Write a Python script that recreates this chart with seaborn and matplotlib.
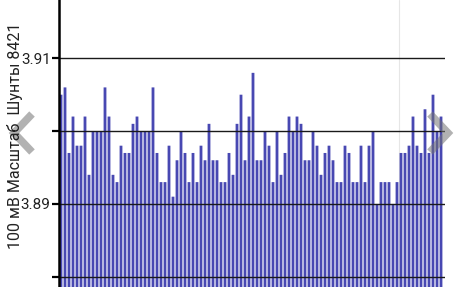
import matplotlib
matplotlib.use("Agg")
import matplotlib.pyplot as plt
import seaborn as sns
import pandas as pd
from matplotlib.lines import Line2D

values = [
    3.905, 3.906, 3.897, 3.902, 3.898, 3.898, 3.902, 3.894, 3.900, 3.900,
    3.900, 3.906, 3.902, 3.894, 3.893, 3.898, 3.897, 3.897, 3.901, 3.902,
    3.900, 3.900, 3.900, 3.906, 3.897, 3.893, 3.893, 3.898, 3.891, 3.896,
    3.900, 3.897, 3.893, 3.897, 3.893, 3.898, 3.896, 3.901, 3.896, 3.896,
    3.893, 3.893, 3.897, 3.894, 3.901, 3.905, 3.896, 3.902, 3.908, 3.896,
    3.896, 3.900, 3.898, 3.893, 3.900, 3.894, 3.897, 3.902, 3.900, 3.902,
    3.901, 3.896, 3.896, 3.900, 3.898, 3.894, 3.897, 3.898, 3.896, 3.893,
    3.893, 3.898, 3.897, 3.893, 3.893, 3.898, 3.893, 3.898, 3.900, 3.890,
    3.893, 3.893, 3.893, 3.890, 3.893, 3.897, 3.897, 3.898, 3.902, 3.898,
    3.897, 3.903, 3.897, 3.905, 3.900, 3.902,
]
samples = list(range(len(values)))
ytick_values = [3.88, 3.89, 3.90, 3.91]
ytick_labels = ["", "3.89", "", "3.91"]
ylabel_text = "100 мВ Масштаб  Шунты 8421"

df = pd.DataFrame({"sample": samples, "value": values})

sns.set_style("white")
plt.rcParams["font.family"] = ["Roboto", "DejaVu Sans"]

W, H = 456, 287
fig = plt.figure(figsize=(W / 100, H / 100), dpi=100)
ax = fig.add_axes([59 / W, 0, (445 - 59) / W, 1])

sns.barplot(data=df, x="sample", y="value", color="#4848b2", saturation=1,
            width=0.7, ax=ax, zorder=2, linewidth=0)
for p in ax.patches:
    p.set_snap(False)
    p.set_antialiased(True)

ax.axvline(84.6, color="#e6e6e6", lw=0.8, zorder=0)

ax.set_ylim(3.8786, 3.918)
ax.set_xlim(-0.5, 96)
ax.set_yticks(ytick_values)
ax.set_yticklabels(ytick_labels)
ax.yaxis.grid(True, color="#1a1a1a", lw=1.0, zorder=3)
ax.set_axisbelow(False)
for line in ax.get_ygridlines():
    line.set_zorder(3)
ax.set_xticks([])
ax.set_xlabel("")
ax.set_ylabel("")
ax.tick_params(axis="y", left=True, length=5, width=1.6, color="black",
               labelsize=11, pad=1, labelcolor="#222222")
for s in ["top", "right", "bottom"]:
    ax.spines[s].set_visible(False)
ax.spines["left"].set_color("black")
ax.spines["left"].set_linewidth(1.8)
ax.spines["left"].set_zorder(4)

fig.text(15 / W, 1 - 136 / H, ylabel_text, rotation=90, ha="center", va="center",
         fontsize=11.5, color="#222222")

# navigation chevrons
gray = (0.45, 0.45, 0.45, 0.55)
fig.add_artist(Line2D([32 / W, 14 / W, 32 / W],
                      [1 - 114 / H, 1 - 133 / H, 1 - 152 / H],
                      transform=fig.transFigure, color=gray, lw=5.5,
                      solid_joinstyle="miter", solid_capstyle="butt"))
fig.add_artist(Line2D([430 / W, 448 / W, 430 / W],
                      [1 - 114 / H, 1 - 133 / H, 1 - 152 / H],
                      transform=fig.transFigure, color=gray, lw=5.5,
                      solid_joinstyle="miter", solid_capstyle="butt"))

fig.savefig("out.png", dpi=100)
